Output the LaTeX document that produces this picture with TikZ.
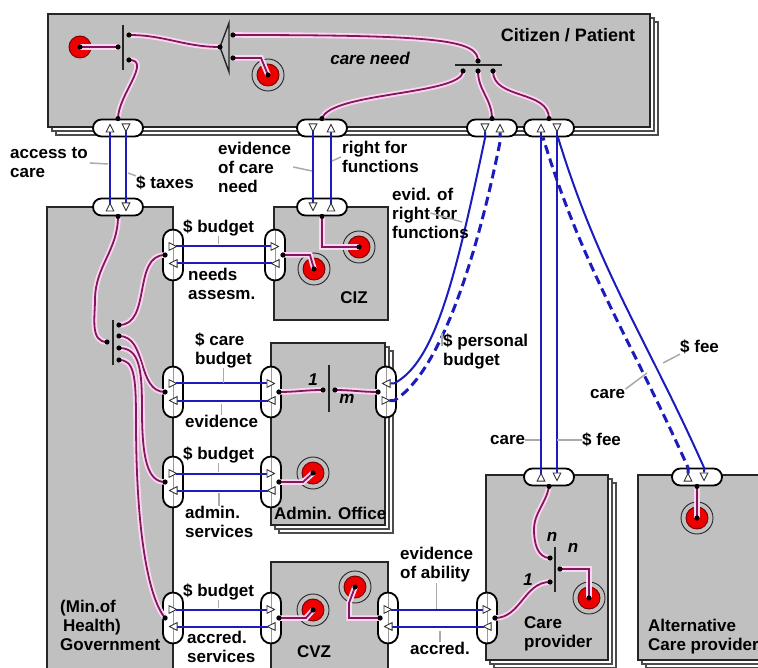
\documentclass[tikz,border=0pt]{standalone}
\usepackage{fontspec}
\setmainfont{Liberation Sans}
\usetikzlibrary{arrows.meta}

\definecolor{boxgray}{RGB}{192,192,192}
\definecolor{flowblue}{RGB}{28,28,190}
\definecolor{wirepurple}{RGB}{128,24,96}
\definecolor{halo}{RGB}{255,214,240}
\definecolor{leadgray}{RGB}{170,170,170}
\definecolor{partyred}{RGB}{238,0,0}

\newcommand{\lblfont}{\fontsize{17}{19}\selectfont\bfseries}
\newcommand{\stackbox}[2]{%
  \draw[backbox] ([shift={(8,-8)}]#1) rectangle ([shift={(8,-8)}]#2);
  \draw[backbox] ([shift={(4,-4)}]#1) rectangle ([shift={(4,-4)}]#2);
  \draw[box] (#1) rectangle (#2);}

\tikzset{
  box/.style={draw=black!85, line width=1.8pt, fill=boxgray},
  backbox/.style={draw=black!70, line width=1.1pt, fill=white},
  pill/.style={draw=black, line width=1.8pt, fill=white, inner sep=0pt},
  hpill/.style={pill, rounded corners=8.5pt, minimum width=50pt, minimum height=17pt},
  vpill/.style={pill, rounded corners=10pt, minimum width=20pt, minimum height=51pt,
    path picture={\draw[black!40, line width=0.8pt] (path picture bounding box.north) -- (path picture bounding box.south);}},
  tri/.tip={Triangle[length=9pt, width=9pt, fill=white, color=black!80, line width=0.9pt]},
  flow/.style={draw=flowblue, line width=2pt},
  payflow/.style={flow, line width=3pt, dash pattern=on 9pt off 5pt},
  wire/.style={draw=wirepurple, line width=1.8pt, preaction={draw=halo, line width=5.5pt}},
  lead/.style={draw=leadgray, line width=1.5pt},
  bar/.style={draw=black!85, line width=1.4pt},
  party/.style={circle, draw=red!45!black, line width=0.9pt, fill=partyred, minimum size=22pt, inner sep=0pt},
  ring/.style={circle, draw=black!85, line width=0.9pt, fill=boxgray, minimum size=32pt, inner sep=0pt},
}

\begin{document}
\begin{tikzpicture}[x=1pt, y=1pt, every node/.style={font=\lblfont, inner sep=0pt, align=left}]
  \useasboundingbox (0,0) rectangle (758,-668);
  \clip (0,0) rectangle (758,-668);

  % Actors
  \stackbox{48,-14}{650,-127}
  \draw[box] (47,-207) rectangle (173,-690);
  \draw[box] (274,-207) rectangle (388,-320);
  \stackbox{271,-343}{385,-525}
  \draw[box] (271,-562) rectangle (388,-690);
  \stackbox{486,-475}{608,-660}
  \stackbox{638,-475}{780,-660}

  % Ports
  \node[hpill] (cp1) at (118,-128) {};
  \node[hpill] (cp2) at (322,-128) {};
  \node[hpill] (cp3) at (492,-128) {};
  \node[hpill] (cp4) at (549,-128) {};
  \node[hpill] (gp0) at (118,-207) {};
  \node[hpill] (cz0) at (322,-207) {};
  \node[vpill] (gp1) at (173,-255) {};
  \node[vpill] (gp2) at (173,-392) {};
  \node[vpill] (gp3) at (173,-482) {};
  \node[vpill] (gp4) at (173,-618) {};
  \node[vpill] (cz1) at (275,-255) {};
  \node[vpill] (ao2) at (271,-392) {};
  \node[vpill] (ao3) at (271,-482) {};
  \node[vpill] (cv4) at (271,-618) {};
  \node[vpill] (aor) at (386,-392) {};
  \node[vpill] (cvr) at (388,-618) {};
  \node[vpill] (cpl) at (487,-618) {};
  \node[hpill] (cpt) at (549,-477) {};
  \node[hpill] (alt) at (697,-477) {};

  % Roles
  \node[party] (c0) at (80,-47) {};
  \node[ring] (r1o) at (268,-75) {};   \node[party] (r1) at (r1o) {};
  \node[ring] (r2ao) at (314,-269) {}; \node[party] (r2a) at (r2ao) {};
  \node[ring] (r2bo) at (359,-247) {}; \node[party] (r2b) at (r2bo) {};
  \node[ring] (r3o) at (313,-473) {};  \node[party] (r3) at (r3o) {};
  \node[ring] (r4o) at (313,-610) {};  \node[party] (r4) at (r4o) {};
  \node[ring] (r5o) at (355,-587) {};  \node[party] (r5) at (r5o) {};
  \node[ring] (r6o) at (589,-598) {};  \node[party] (r6) at (r6o) {};
  \node[ring] (r7o) at (697,-518) {};  \node[party] (r7) at (r7o) {};

  % Splitters
  \coordinate (s1in) at (118,-47);  \coordinate (s1a) at (129,-35);  \coordinate (s1b) at (129,-60);
  \coordinate (s2in) at (220,-47);  \coordinate (s2a) at (233,-35);  \coordinate (s2b) at (233,-58);
  \coordinate (s3in) at (478,-61);  \coordinate (s3a) at (463,-71);  \coordinate (s3b) at (478,-71);
  \coordinate (s3c) at (493,-71);
  \coordinate (s4in) at (323,-390); \coordinate (s4out) at (335,-390);
  \coordinate (s5a) at (550,-558);  \coordinate (s5b) at (550,-582); \coordinate (s5c) at (560,-569);
  \coordinate (s6in) at (107,-342); \coordinate (s6a) at (119,-325); \coordinate (s6b) at (119,-336);
  \coordinate (s6c) at (119,-348);  \coordinate (s6d) at (119,-360);
  \draw[bar] (123,-25) -- (123,-70);
  \draw[bar] (229,-23) -- (229,-72) -- (220,-47) -- cycle;
  \draw[bar] (455,-65) -- (502,-65);
  \draw[bar] (329,-365) -- (329,-412);
  \draw[bar] (555,-547) -- (555,-592);
  \draw[bar] (113,-320) -- (113,-365);

  % Port ends
  \coordinate (gp1p) at ([xshift=3pt]gp1.west);
  \coordinate (gp2p) at ([xshift=3pt]gp2.west);
  \coordinate (gp3p) at ([xshift=3pt]gp3.west);
  \coordinate (gp4p) at ([xshift=3pt]gp4.west);
  \coordinate (cz1p) at ([xshift=-3pt]cz1.east);
  \coordinate (ao2p) at ([xshift=-3pt]ao2.east);
  \coordinate (ao3p) at ([xshift=-3pt]ao3.east);
  \coordinate (cv4p) at ([xshift=-3pt]cv4.east);
  \coordinate (aorp) at ([xshift=3pt]aor.west);
  \coordinate (cvrp) at ([xshift=3pt]cvr.west);
  \coordinate (cplp) at ([xshift=-3pt]cpl.east);

  % Wires
  \draw[wire] (c0.center) -- (s1in);
  \draw[wire] (s1a) to[out=0,in=180] (s2in);
  \draw[wire] (s2a) .. controls (440,-35) and (478,-40) .. (s3in);
  \draw[wire] (s2b) -- (261,-58) -- (r1.center);
  \draw[wire] (s1b) to[out=0,in=90] (cp1.north);
  \draw[wire] (s3a) .. controls (463,-95) and (330,-92) .. (cp2.north);
  \draw[wire] (s3b) to[out=-90,in=90] (cp3.north);
  \draw[wire] (s3c) to[out=-90,in=90] (cp4.north);
  \draw[wire] (gp0.south) to[out=-90,in=90] (95,-300) to[out=-90,in=180] (s6in);
  \draw[wire] (s6a) to[out=0,in=180] (gp1p);
  \draw[wire] (s6b) to[out=0,in=180] (gp2p);
  \draw[wire] (s6c) .. controls (140,-348) and (142,-370) .. (142,-410) .. controls (142,-460) and (148,-482) .. (gp3p);
  \draw[wire] (s6d) .. controls (134,-360) and (136,-375) .. (136,-420) .. controls (136,-540) and (150,-600) .. (gp4p);
  \draw[wire] (cz1p) -- (310,-255) -- (r2a.center);
  \draw[wire] (cz0.south) -- (322,-247) -- (r2b.center);
  \draw[wire] (ao2p) to[out=0,in=180] (s4in);
  \draw[wire] (s4out) to[out=0,in=180] (aorp);
  \draw[wire] (ao3p) -- (303,-482) -- (r3.center);
  \draw[wire] (cv4p) -- (306,-618) -- (r4.center);
  \draw[wire] (cvrp) -- (349,-618) -- (349,-603) -- (r5.center);
  \draw[wire] (cplp) to[out=0,in=180] (s5b);
  \draw[wire] (cpt.south) to[out=-100,in=90] (534,-530) to[out=-90,in=180] (s5a);
  \draw[wire] (s5c) -- (589,-569) -- (r6.center);
  \draw[wire] (alt.south) -- (r7.center);

  \foreach \p in {s1in,s1a,s1b,s2in,s2a,s2b,s3in,s3a,s3b,s3c,s4in,s4out,s5a,s5b,s5c,
      s6in,s6a,s6b,s6c,s6d,gp1p,gp2p,gp3p,gp4p,cz1p,ao2p,ao3p,cv4p,aorp,cvrp,cplp,
      cp1.north,cp2.north,cp3.north,cp4.north,gp0.south,cz0.south,cpt.south,alt.south,
      c0.center,r1.center,r2a.center,r2b.center,r3.center,r4.center,r5.center,r6.center,r7.center}
    \fill (\p) circle (2.6pt);

  % Flows
  \draw[flow, {tri[reversed]}-{tri}] ([shift={(-8,-4.5)}]gp0.center) -- ([shift={(-8,4.5)}]cp1.center);
  \draw[flow, {tri[reversed]}-{tri}] ([shift={(8,4.5)}]cp1.center) -- ([shift={(8,-4.5)}]gp0.center);
  \draw[flow, {tri[reversed]}-{tri}] ([shift={(-9,4.5)}]cp2.center) -- ([shift={(-9,-4.5)}]cz0.center);
  \draw[flow, {tri[reversed]}-{tri}] ([shift={(9,-4.5)}]cz0.center) -- ([shift={(9,4.5)}]cp2.center);
  \draw[flow, {tri[reversed]}-{tri}] ([shift={(-7,4.5)}]cp3.center) -- (485,-138)
    .. controls (455,-280) and (435,-362) .. (394,-383.5) -- ([shift={(-4.5,8.5)}]aor.center);
  \draw[payflow, {tri[reversed]}-{tri}] ([shift={(-4.5,-8.5)}]aor.center) -- (394,-400.5)
    .. controls (432,-378) and (470,-290) .. (500,-142) -- ([shift={(8,4.5)}]cp3.center);
  \draw[flow, {tri[reversed]}-{tri}] ([shift={(-8,-4.5)}]cpt.center) -- ([shift={(-8,4.5)}]cp4.center);
  \draw[flow, {tri[reversed]}-{tri}] ([shift={(8,4.5)}]cp4.center) -- ([shift={(8,-4.5)}]cpt.center);
  \draw[payflow, {tri[reversed]}-] ([shift={(-9,-4.5)}]alt.center) -- ([xshift=-9]alt.north)
    to[out=114,in=-73] ([xshift=-6]cp4.south);
  \draw[flow, -{tri}] ([xshift=9]cp4.south) to[out=-73,in=114] ([xshift=7]alt.north)
    -- ([shift={(7,-4.5)}]alt.center);
  \foreach \a/\b in {gp1/cz1, gp2/ao2, gp3/ao3, gp4/cv4, cvr/cpl} {
    \draw[flow, {tri[reversed]}-{tri}] ([shift={(-4.5,8.5)}]\a.center) -- ([shift={(4.5,8.5)}]\b.center);
    \draw[flow, {tri[reversed]}-{tri}] ([shift={(4.5,-8.5)}]\b.center) -- ([shift={(-4.5,-8.5)}]\a.center);
  }

  % Labels
  \node[font=\fontsize{18}{20}\selectfont\bfseries] (tCit) at (568,-35) {Citizen / Patient};
  \node (tNeed) at (370,-58) {\itshape care need};
  \node[anchor=west] (tAccess) at (10,-163) {access to\\care};
  \node[anchor=west] (tTaxes) at (136,-183) {\$ taxes};
  \node[anchor=west] (tEvCare) at (218,-167) {evidence\\of care\\need};
  \node[anchor=west] (tRight) at (342,-157) {right for\\functions};
  \node[anchor=west] (tEvid) at (392,-213) {evid. of\\right for\\functions};
  \node[anchor=west] (tPers) at (443,-351) {\$ personal\\budget};
  \node[anchor=west] (tFeeA) at (680,-347) {\$ fee};
  \node[anchor=west] (tCareA) at (590,-394) {care};
  \node[anchor=west] (tCareB) at (490,-440) {care};
  \node[anchor=west] (tFeeB) at (582,-440) {\$ fee};
  \node[anchor=west] (tBud1) at (183,-228) {\$ budget};
  \node[anchor=west] (tNeeds) at (188,-284) {needs\\assesm.};
  \node (tCIZ) at (354,-298) {CIZ};
  \node[anchor=west] (tBud2) at (195,-350) {\$ care\\budget};
  \node[anchor=west] (tEv2) at (185,-421) {evidence};
  \node (tOne) at (313,-380) {\itshape 1};
  \node (tM) at (347,-399) {\itshape m};
  \node[anchor=west] (tAdm) at (274,-513) {Admin. Office};
  \node[anchor=west] (tBud3) at (183,-455) {\$ budget};
  \node[anchor=west] (tAdmS) at (185,-522) {admin.\\services};
  \node[anchor=west] (tBud4) at (183,-592) {\$ budget};
  \node[anchor=west] (tAcc) at (187,-647) {accred.\\services};
  \node (tCVZ) at (314,-652) {CVZ};
  \node[anchor=west] (tGov) at (60,-625) {(Min.of\\\hspace{3pt}Health)\\Government};
  \node[anchor=west] (tAbil) at (400,-565) {evidence\\of ability};
  \node[anchor=west] (tAcc2) at (410,-648) {accred.};
  \node (tN1) at (552,-537) {\itshape n};
  \node (tN2) at (573,-548) {\itshape n};
  \node (tOne2) at (528,-580) {\itshape 1};
  \node[anchor=west] (tCP) at (524,-634) {Care\\provider};
  \node[anchor=west] (tAlt) at (648,-637) {Alternative\\Care provider};

  % Leaders
  \draw[lead] ([xshift=2pt]tAccess.east) -- (108,-164);
  \draw[lead] (128,-173) -- (tTaxes.north west);
  \draw[lead] ([xshift=2pt]tEvCare.east) -- (312,-171);
  \draw[lead] (332,-161) -- ([xshift=-1pt]tRight.west);
  \draw[lead] (tEvid.center) -- (462,-222);
  \draw[lead] ([xshift=-1pt]tPers.north west) -- ++(0,-13);
  \draw[lead] (tFeeA.south west) -- (663,-363);
  \draw[lead] (tCareA.north east) -- (647,-373);
  \draw[lead] (tCareB.east) -- (540,-440);
  \draw[lead] (557,-440) -- (tFeeB.west);
  \draw[lead] (tBud1.south) -- ++(0,-8);
  \draw[lead] (tBud2.south) -- ++(0,-15);
  \draw[lead] (tEv2.north) -- ++(0,11);
  \draw[lead] (tBud3.south) -- ++(0,-9);
  \draw[lead] (tAdmS.north) -- ++(0,13);
  \draw[lead] (tBud4.south) -- ++(0,-8);
  \draw[lead] (tAbil.south) -- ++(0,-26);
  \draw[lead] (tAcc2.north) -- ++(0,11);
\end{tikzpicture}
\end{document}
